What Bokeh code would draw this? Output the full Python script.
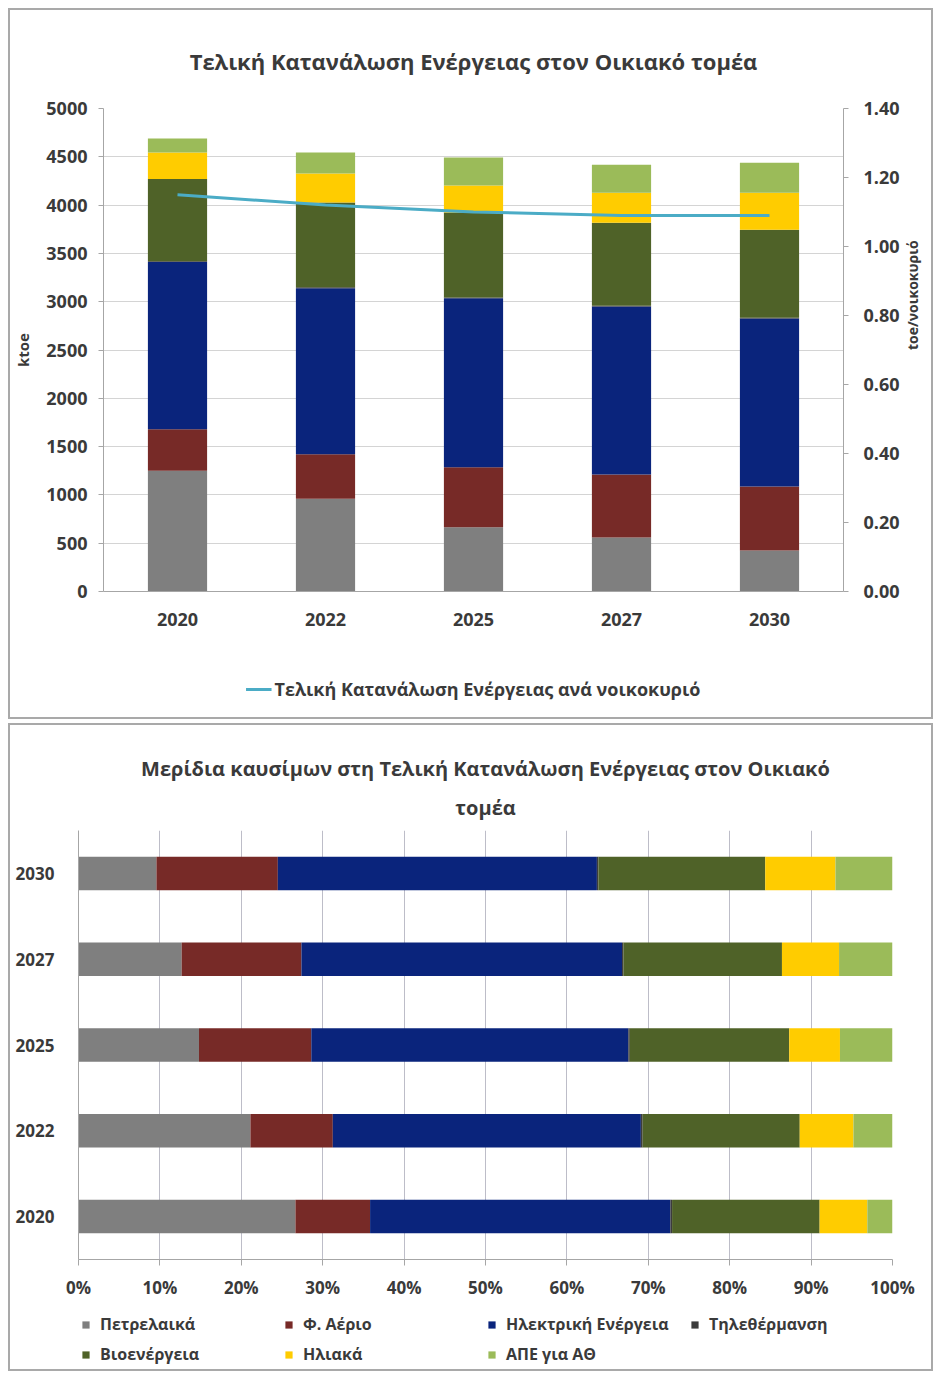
import math
from bokeh.plotting import figure
from bokeh.models import (FactorRange, Range1d, LinearAxis, Legend, LegendItem, Title,
                          FixedTicker, NumeralTickFormatter, ColumnDataSource)
from bokeh.layouts import column
from bokeh.embed import file_html
from bokeh.resources import INLINE

# ---------------- data ----------------
years = ["2020", "2022", "2025", "2027", "2030"]
petroleum = [1250, 960, 665, 560, 425]          # ktoe
natural_gas = [430, 460, 620, 650, 662]
electricity = [1730, 1720, 1750, 1740, 1740]
district_heating = [10, 10, 8, 8, 8]
bioenergy = [850, 877, 880, 860, 910]
solar = [275, 300, 280, 310, 383]
res_heat = [145, 218, 290, 290, 311]
per_household = [1.15, 1.12, 1.10, 1.09, 1.09]  # toe/household

fuel_names = ["Πετρελαικά", "Φ. Αέριο", "Ηλεκτρική Ενέργεια", "Τηλεθέρμανση",
              "Βιοενέργεια", "Ηλιακά", "ΑΠΕ για ΑΘ"]
left_ticks = [0, 500, 1000, 1500, 2000, 2500, 3000, 3500, 4000, 4500, 5000]
right_ticks = [0.0, 0.2, 0.4, 0.6, 0.8, 1.0, 1.2, 1.4]
pct_ticks = [0.0, 0.1, 0.2, 0.3, 0.4, 0.5, 0.6, 0.7, 0.8, 0.9, 1.0]

title_top = "Τελική Κατανάλωση Ενέργειας στον Οικιακό τομέα"
title_bottom_1 = "Μερίδια καυσίμων στη Τελική Κατανάλωση Ενέργειας στον Οικιακό"
title_bottom_2 = "τομέα"
line_name = "Τελική Κατανάλωση Ενέργειας ανά νοικοκυριό"

# ---------------- styles ----------------
FONT = "Open Sans"
TXT = "#3a3a3a"
AX = "#a6a6a6"
BORDER = "2px solid #a9a9a9"
LINE_COLOR = "#4bacc6"
colors = ["#7f7f7f", "#772a27", "#0a247c", "#3c3c3c", "#4f6228", "#ffcc00", "#9bbb59"]
keys = ["pet", "gas", "elec", "dh", "bio", "sol", "res"]
series = [petroleum, natural_gas, electricity, district_heating, bioenergy, solar, res_heat]

data = {"year": years, "hh": per_household}
for k, s in zip(keys, series):
    data[k] = s
src = ColumnDataSource(data)

totals = [sum(vals) for vals in zip(*series)]
data2 = {"year": years}
for k, s in zip(keys, series):
    data2[k] = [v / t for v, t in zip(s, totals)]
src2 = ColumnDataSource(data2)

W = 925

# ---------------- top chart ----------------
p1 = figure(x_range=FactorRange(*years), y_range=Range1d(0, 5000),
            width=W, height=650, output_backend="svg", toolbar_location=None,
            min_border_left=93, min_border_right=92, min_border_top=98, min_border_bottom=69,
            title=title_top,
            styles={"border-top": BORDER, "border-left": BORDER, "border-right": BORDER})
p1.title.align = "center"
p1.title.text_font = FONT
p1.title.text_font_size = "22px"
p1.title.text_font_style = "bold"
p1.title.text_color = TXT
p1.title.standoff = 66

p1.vbar_stack(keys, x="year", width=0.4, color=colors, source=src, line_width=0)
p1.extra_y_ranges = {"hh": Range1d(0, 1.4)}
p1.line("year", "hh", source=src, y_range_name="hh", line_color=LINE_COLOR, line_width=3)

p1.outline_line_color = None
p1.xgrid.grid_line_color = None
p1.ygrid.grid_line_color = "#d4d4d4"
p1.ygrid.ticker = FixedTicker(ticks=left_ticks)

ya = p1.yaxis[0]
ya.ticker = FixedTicker(ticks=left_ticks)
ya.axis_label = "ktoe"

ra = LinearAxis(y_range_name="hh", ticker=FixedTicker(ticks=right_ticks),
                formatter=NumeralTickFormatter(format="0.00"), axis_label="toe/νοικοκυριό")
if hasattr(ra, "axis_label_orientation"):
    ra.axis_label_orientation = math.pi / 2
p1.add_layout(ra, "right")

for ax in [ya, ra]:
    ax.axis_line_color = AX
    ax.major_tick_line_color = AX
    ax.major_tick_out = 5
    ax.major_tick_in = 0
    ax.minor_tick_line_color = None
    ax.major_label_text_font = FONT
    ax.major_label_text_font_size = "18px"
    ax.major_label_text_font_style = "bold"
    ax.major_label_text_color = TXT
    ax.axis_label_text_font = FONT
    ax.axis_label_text_font_style = "bold"
    ax.axis_label_text_color = TXT
ya.major_label_standoff = 11
ya.axis_label_standoff = 10
ya.axis_label_text_font_size = "15px"
ra.major_label_standoff = 15
ra.axis_label_standoff = 10
ra.axis_label_text_font_size = "14px"

xa = p1.xaxis[0]
xa.axis_line_color = AX
xa.major_tick_line_color = None
xa.major_label_text_font = FONT
xa.major_label_text_font_size = "18px"
xa.major_label_text_font_style = "bold"
xa.major_label_text_color = TXT
xa.major_label_standoff = 15

# legend strip of the top chart (the sample renderer is hidden; only its legend glyph shows)
lg1 = figure(width=W, height=61, x_range=FactorRange(*years), y_range=Range1d(10, 11),
             x_axis_type=None, y_axis_type=None, output_backend="svg", toolbar_location=None,
             min_border_left=93, min_border_right=92, min_border_top=0, min_border_bottom=0,
             styles={"border-bottom": BORDER, "border-left": BORDER, "border-right": BORDER})
lg1.outline_line_color = None
lg1.grid.visible = False
sample_line = lg1.line("year", "hh", source=src, line_color=LINE_COLOR, line_width=3)
sample_line.visible = False
leg1 = Legend(items=[LegendItem(label=line_name, renderers=[sample_line])],
              location="center", orientation="horizontal",
              border_line_color=None, background_fill_alpha=0,
              label_text_font=FONT, label_text_font_size="18px",
              label_text_font_style="bold", label_text_color=TXT,
              glyph_width=26, label_standoff=3, margin=0, padding=2)
lg1.add_layout(leg1)

top_box = column(p1, lg1, spacing=0, margin=(8, 0, 0, 8))

# ---------------- bottom chart ----------------
p2 = figure(y_range=FactorRange(*years), x_range=Range1d(0, 1),
            width=W, height=585, output_backend="svg", toolbar_location=None,
            min_border_left=68, min_border_right=43, min_border_top=105, min_border_bottom=51,
            styles={"border-top": BORDER, "border-left": BORDER, "border-right": BORDER})
for txt, so in [(title_bottom_2, 20), (title_bottom_1, 0)]:
    p2.add_layout(Title(text=txt, align="center", text_font=FONT, text_font_size="20px",
                        text_font_style="bold", text_color=TXT, standoff=so), "above")

p2.hbar_stack(keys, y="year", height=0.39, color=colors, source=src2, line_width=0)

p2.outline_line_color = None
p2.ygrid.grid_line_color = None
p2.xgrid.grid_line_color = "#bdbdc8"
p2.xgrid.ticker = FixedTicker(ticks=pct_ticks)

bx = p2.xaxis[0]
bx.ticker = FixedTicker(ticks=pct_ticks)
bx.formatter = NumeralTickFormatter(format="0%")
bx.axis_line_color = AX
bx.major_tick_line_color = AX
bx.major_tick_out = 6
bx.major_tick_in = 0
bx.minor_tick_line_color = None
bx.major_label_standoff = 10

by = p2.yaxis[0]
by.axis_line_color = AX
by.major_tick_line_color = None
by.major_label_standoff = 18

for ax in [bx, by]:
    ax.major_label_text_font = FONT
    ax.major_label_text_font_size = "17px"
    ax.major_label_text_font_style = "bold"
    ax.major_label_text_color = TXT

# legend strip of the bottom chart (sample renderers hidden; only legend glyphs show)
lg2 = figure(width=W, height=63, y_range=FactorRange(*years), x_range=Range1d(5, 6),
             x_axis_type=None, y_axis_type=None, output_backend="svg", toolbar_location=None,
             min_border_left=68, min_border_right=43, min_border_top=0, min_border_bottom=0,
             styles={"border-bottom": BORDER, "border-left": BORDER, "border-right": BORDER})
lg2.outline_line_color = None
lg2.grid.visible = False
samples = lg2.hbar_stack(keys, y="year", height=0.39, color=colors, source=src2, line_width=0)
for r in samples:
    r.visible = False
leg2 = Legend(items=[LegendItem(label=n, renderers=[r]) for n, r in zip(fuel_names, samples)],
              location=(3, 6), orientation="horizontal", ncols=4,
              border_line_color=None, background_fill_alpha=0,
              label_text_font=FONT, label_text_font_size="16px",
              label_text_font_style="bold", label_text_color=TXT,
              glyph_width=9, glyph_height=9, label_standoff=10, label_width=176,
              label_height=20, spacing=8, margin=0, padding=0)
lg2.add_layout(leg2)

bottom_box = column(p2, lg2, spacing=0, margin=(4, 0, 0, 8))

open("out.html", "w").write(file_html([top_box, bottom_box], INLINE))
